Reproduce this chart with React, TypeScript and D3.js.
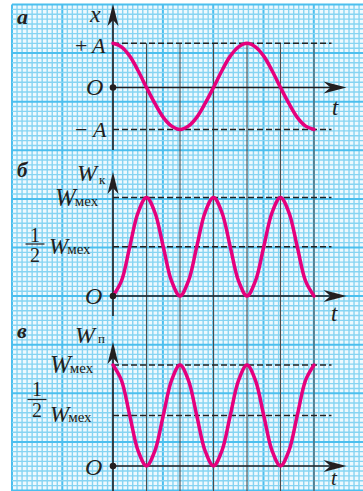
import * as d3 from 'd3';

const W = 363;
const H = 491;

// time in periods T, read every T/16
const tSamples = [0, 0.0625, 0.125, 0.1875, 0.25, 0.3125, 0.375, 0.4375, 0.5, 0.5625, 0.625, 0.6875, 0.75,
  0.8125, 0.875, 0.9375, 1, 1.0625, 1.125, 1.1875, 1.25, 1.3125, 1.375, 1.4375, 1.5];
// a: displacement x / A
const xValues = [1, 0.92, 0.71, 0.38, 0, -0.38, -0.71, -0.92, -1, -0.92, -0.71, -0.38, 0,
  0.38, 0.71, 0.92, 1, 0.92, 0.71, 0.38, 0, -0.38, -0.71, -0.92, -1];
// б: kinetic energy / Wмех
const wkValues = [0, 0.15, 0.5, 0.85, 1, 0.85, 0.5, 0.15, 0, 0.15, 0.5, 0.85, 1,
  0.85, 0.5, 0.15, 0, 0.15, 0.5, 0.85, 1, 0.85, 0.5, 0.15, 0];
// в: potential energy / Wмех
const wpValues = [1, 0.85, 0.5, 0.15, 0, 0.15, 0.5, 0.85, 1, 0.85, 0.5, 0.15, 0,
  0.15, 0.5, 0.85, 1, 0.85, 0.5, 0.15, 0, 0.15, 0.5, 0.85, 1];
const quarterTicks = [0.25, 0.5, 0.75, 1, 1.25, 1.5];
const levelsA = [1, -1];
const levelsW = [1, 0.5];

const FONT = '"Liberation Serif", "DejaVu Serif", serif';
const PINK = '#e5007d';
const INK = '#231f20';

const xT = d3.scaleLinear().domain([0, 1.5]).range([113, 314]);
const yA = d3.scaleLinear().domain([-1, 0, 1]).range([129.5, 87.5, 43.3]);
const yK = d3.scaleLinear().domain([0, 1]).range([296, 197.5]);
const yP = d3.scaleLinear().domain([0, 1]).range([466, 365]);

const panels = [
  { y: yA, values: xValues, levels: levelsA, top: 4, bottom: 150 },
  { y: yK, values: wkValues, levels: levelsW, top: 172, bottom: 316 },
  { y: yP, values: wpValues, levels: levelsW, top: 342, bottom: 491 },
];

const AXIS_X = xT(0);
const T_END = 346.5;
const DASH_END = 331.5;

function Grid() {
  const minorX = d3.range(12, W, 5.03);
  const minorY = d3.range(4.5, H, 4.86);
  return (
    <g>
      <rect x={12} y={4.5} width={W - 12} height={H - 4.5} fill="#eef9fe" />
      {minorX.map((x, i) => (
        <line key={'vx' + i} x1={x} x2={x} y1={4.5} y2={H}
          stroke={i % 10 === 0 ? '#4cbfee' : '#86d4f2'} strokeWidth={i % 10 === 0 ? 2 : 1.4} />
      ))}
      {minorY.map((y, i) => (
        <line key={'hy' + i} x1={12} x2={W} y1={y} y2={y}
          stroke={i % 10 === 0 ? '#4cbfee' : '#86d4f2'} strokeWidth={i % 10 === 0 ? 2 : 1.4} />
      ))}
    </g>
  );
}

function Wmex({ x, y, size = 25 }: { x: number; y: number; size?: number }) {
  return (
    <text x={x} y={y} fontFamily={FONT} fill={INK}>
      <tspan fontStyle="italic" fontSize={size}>W</tspan>
      <tspan fontSize={15} dx={-1}>мех</tspan>
    </text>
  );
}

function Half({ x, y1, yBar, y2 }: { x: number; y1: number; yBar: number; y2: number }) {
  return (
    <g fontFamily={FONT} fill={INK} fontSize={20} textAnchor="middle">
      <text x={x} y={y1}>1</text>
      <line x1={x - 9.5} x2={x + 9.5} y1={yBar} y2={yBar} stroke={INK} strokeWidth={1.2} />
      <text x={x} y={y2}>2</text>
    </g>
  );
}

export default function App() {
  const line = (y: d3.ScaleLinear<number, number>) =>
    d3.line<number>()
      .x((_, i) => xT(tSamples[i]))
      .y(d => y(d))
      .curve(d3.curveCatmullRom.alpha(0.5));

  return (
    <svg width={W} height={H} style={{ position: 'absolute', left: 0, top: 0, display: 'block', background: '#fff' }}>
      <Grid />

      {quarterTicks.map(t => (
        <line key={'q' + t} x1={xT(t)} x2={xT(t)} y1={yA(1)} y2={H} stroke="#4d4d4d" strokeWidth={1.1} />
      ))}

      {panels.map((p, k) => {
        const o = p.y(0);
        return (
          <g key={'p' + k}>
            {p.levels.map(v => (
              <line key={'l' + v} x1={AXIS_X} x2={DASH_END} y1={p.y(v)} y2={p.y(v)}
                stroke="#222" strokeWidth={1.4} strokeDasharray="6,3" />
            ))}
            <line x1={AXIS_X} x2={AXIS_X} y1={p.top + 6} y2={p.bottom} stroke={INK} strokeWidth={1.6} />
            <path d={`M${AXIS_X},${p.top} L${AXIS_X + 5.5},${p.top + 22} L${AXIS_X},${p.top + 16} L${AXIS_X - 5.5},${p.top + 22} Z`} fill={INK} />
            <line x1={AXIS_X} x2={T_END - 8} y1={o} y2={o} stroke={INK} strokeWidth={1.6} />
            <path d={`M${T_END},${o} L${T_END - 23},${o - 6} L${T_END - 16},${o} L${T_END - 23},${o + 6} Z`} fill={INK} />
            <path d={line(p.y)(p.values) ?? ''} fill="none" stroke={PINK} strokeWidth={3.5}
              strokeLinecap="round" strokeLinejoin="round" />
            <circle cx={AXIS_X} cy={o} r={3.3} fill={INK} />
          </g>
        );
      })}

      <g fontFamily={FONT} fill={INK}>
        {/* panel a */}
        <text x={17} y={24} fontSize={22} fontWeight="bold" fontStyle="italic">а</text>
        <text x={90} y={22} fontSize={24} fontStyle="italic">x</text>
        <text x={75} y={53} fontSize={22}>+</text>
        <text x={92} y={53} fontSize={22} fontStyle="italic">A</text>
        <text x={86} y={95} fontSize={24} fontStyle="italic">O</text>
        <text x={75} y={137} fontSize={22}>−</text>
        <text x={93} y={137} fontSize={22} fontStyle="italic">A</text>
        <text x={332} y={115} fontSize={23} fontStyle="italic">t</text>

        {/* panel б */}
        <text x={17} y={177} fontSize={21} fontWeight="bold" fontStyle="italic">б</text>
        <text x={77} y={181} fontSize={24} fontStyle="italic">W</text>
        <text x={99} y={184} fontSize={13}>к</text>
        <text x={85} y={304} fontSize={24} fontStyle="italic">O</text>
        <text x={331} y={321} fontSize={23} fontStyle="italic">t</text>

        {/* panel в */}
        <text x={17} y={338} fontSize={22} fontWeight="bold" fontStyle="italic">в</text>
        <text x={75} y={343} fontSize={24} fontStyle="italic">W</text>
        <text x={98} y={343} fontSize={13}>п</text>
        <text x={85} y={475} fontSize={24} fontStyle="italic">O</text>
        <text x={331} y={485} fontSize={21} fontStyle="italic">t</text>
      </g>

      <Wmex x={55} y={206} />
      <Half x={35} y1={241.5} yBar={244} y2={261.5} />
      <Wmex x={49} y={253.5} size={23} />

      <Wmex x={50} y={373} />
      <Half x={37} y1={396} yBar={399.5} y2={417} />
      <Wmex x={50} y={421.5} size={23} />
    </svg>
  );
}
